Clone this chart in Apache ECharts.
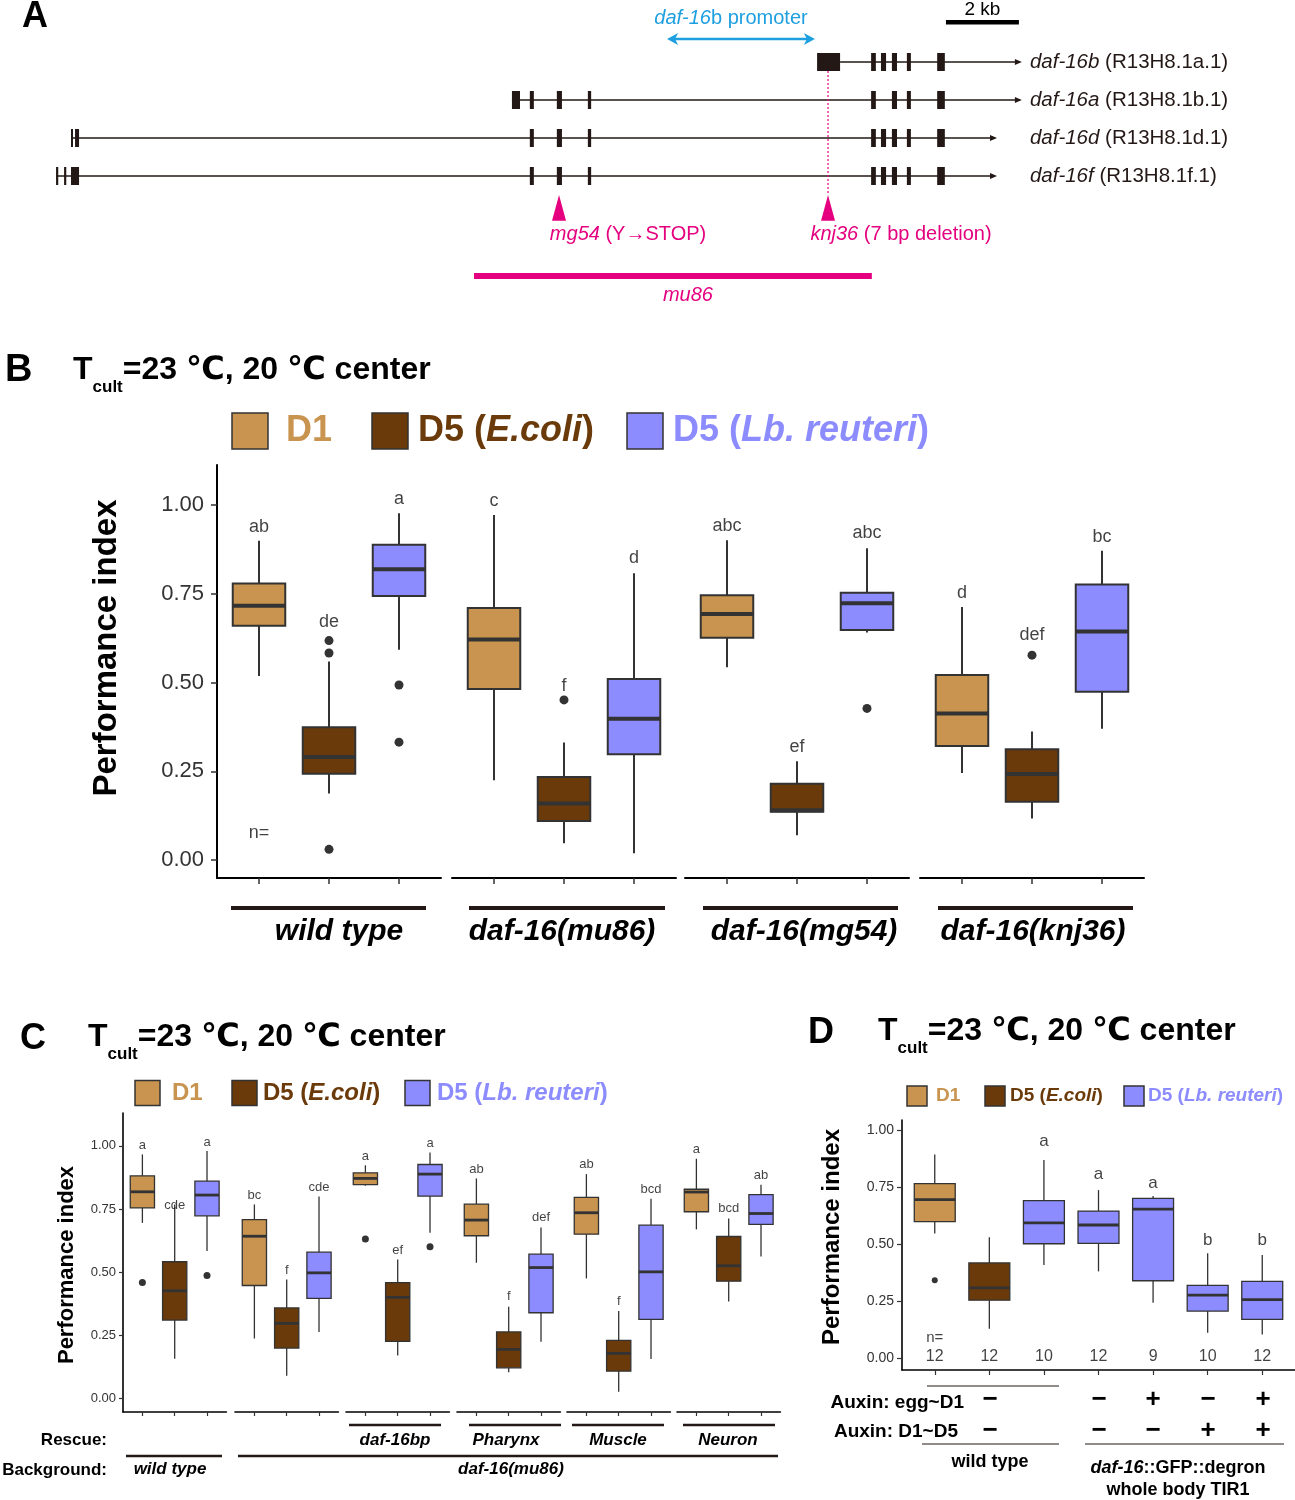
<!DOCTYPE html>
<html><head><meta charset="utf-8">
<script src="https://cdn.jsdelivr.net/npm/echarts@6/dist/echarts.min.js"></script>
<style>html,body{margin:0;padding:0;background:#fff}#c{width:1295px;height:1500px}</style>
</head><body><div id="c"></div>
<script>
const FONT = '"Liberation Sans", Arial, Helvetica, "DejaVu Sans", sans-serif';
const INK = '#231815';
const MAG = '#E4007F';
const BLUE = '#1D9FE0';

// ---------- shared ----------
const conditions = ['D1', 'D5 (E.coli)', 'D5 (Lb. reuteri)'];
const condColors = ['#C8944F', '#6B3A0A', '#8C8CFF'];
const yTicks = [0, 0.25, 0.5, 0.75, 1];

// ---------- Panel A (gene models, positions in kb) ----------
const txNames = ['daf-16b', 'daf-16a', 'daf-16d', 'daf-16f'];
const txIds = ['R13H8.1a.1', 'R13H8.1b.1', 'R13H8.1d.1', 'R13H8.1f.1'];
const txSpan = [[21.92, 26.90], [12.93, 26.90], [0.85, 26.22], [0.44, 26.22]];
const rightExons = [[22.77, 22.90], [23.04, 23.18], [23.34, 23.48], [23.75, 23.86], [24.58, 24.79]];
const leftExons = [[13.42, 13.53], [14.16, 14.30], [15.01, 15.10]];
const txExons = [
  [[21.29, 21.92]].concat(rightExons),
  [[12.93, 13.15]].concat(leftExons, [[22.77, 22.90], [23.34, 23.48], [23.75, 23.86], [24.58, 24.79]]),
  [[0.85, 0.90], [0.96, 1.07]].concat(leftExons, rightExons),
  [[0.44, 0.50], [0.66, 0.72], [0.85, 1.07]].concat(leftExons, rightExons)
];
const mutNames = ['mg54', 'knj36'];
const mutKb = [14.22, 21.59];
const mutText = ['{i|mg54} (Y→STOP)', '{i|knj36} (7 bp deletion)'];
const mu86Kb = [11.89, 22.79];
const promoterKb = [17.18, 21.23];
const scaleBarKb = [24.82, 26.82];

// ---------- Panel B ----------
const bGroups = ['wild type', 'daf-16(mu86)', 'daf-16(mg54)', 'daf-16(knj36)'];
// [min, Q1, median, Q3, max] ; order: group x condition
const bStats = [
  [0.518, 0.660, 0.716, 0.779, 0.899], [0.187, 0.243, 0.290, 0.374, 0.559], [0.592, 0.744, 0.819, 0.888, 0.977],
  [0.225, 0.482, 0.621, 0.710, 0.972], [0.047, 0.110, 0.159, 0.234, 0.331], [0.019, 0.298, 0.398, 0.510, 0.808],
  [0.543, 0.626, 0.693, 0.746, 0.901], [0.070, 0.136, 0.140, 0.215, 0.278], [0.641, 0.648, 0.723, 0.753, 0.878],
  [0.245, 0.321, 0.413, 0.521, 0.713], [0.117, 0.164, 0.242, 0.312, 0.362], [0.370, 0.474, 0.644, 0.776, 0.871]
];
const bOutliers = [[1, 0.618], [1, 0.583], [1, 0.030], [2, 0.493], [2, 0.332], [4, 0.451], [8, 0.427], [10, 0.577]];
const bLetters = ['ab', 'de', 'a', 'c', 'f', 'd', 'abc', 'ef', 'abc', 'd', 'def', 'bc'];
const bLetterY = [0.938, 0.670, 1.017, 1.011, 0.491, 0.851, 0.941, 0.318, 0.921, 0.753, 0.634, 0.911];

// ---------- Panel C ----------
const cRescue = ['', '', 'daf-16bp', 'Pharynx', 'Muscle', 'Neuron'];
const cBackground = ['wild type', 'daf-16(mu86)'];
const cStats = [
  [0.695, 0.754, 0.818, 0.881, 0.966], [0.157, 0.310, 0.426, 0.541, 0.768], [0.584, 0.723, 0.805, 0.860, 0.980],
  [0.237, 0.447, 0.642, 0.708, 0.768], [0.090, 0.199, 0.297, 0.358, 0.471], [0.263, 0.396, 0.497, 0.579, 0.799],
  [0.842, 0.846, 0.871, 0.893, 0.923], [0.170, 0.226, 0.400, 0.458, 0.550], [0.656, 0.801, 0.888, 0.926, 0.974],
  [0.537, 0.644, 0.706, 0.769, 0.871], [0.103, 0.121, 0.194, 0.263, 0.363], [0.224, 0.339, 0.518, 0.571, 0.677],
  [0.475, 0.650, 0.735, 0.796, 0.888], [0.026, 0.108, 0.178, 0.230, 0.346], [0.156, 0.313, 0.501, 0.686, 0.790],
  [0.669, 0.739, 0.817, 0.828, 0.949], [0.384, 0.464, 0.525, 0.641, 0.712], [0.562, 0.689, 0.732, 0.807, 0.846]
];
const cOutliers = [[0, 0.459], [2, 0.487], [6, 0.631], [8, 0.600]];
const cLetters = ['a', 'cde', 'a', 'bc', 'f', 'cde', 'a', 'ef', 'a', 'ab', 'f', 'def', 'ab', 'f', 'bcd', 'a', 'bcd', 'ab'];
const cLetterY = [1.000, 0.763, 1.015, 0.805, 0.508, 0.835, 0.959, 0.587, 1.009, 0.908, 0.402, 0.716, 0.926, 0.383, 0.829, 0.985, 0.752, 0.882];

// ---------- Panel D ----------
const dCond = [0, 1, 2, 2, 2, 2, 2];
const dStats = [
  [0.547, 0.599, 0.695, 0.765, 0.893], [0.130, 0.255, 0.309, 0.418, 0.530], [0.409, 0.502, 0.593, 0.691, 0.869],
  [0.381, 0.504, 0.584, 0.645, 0.737], [0.244, 0.340, 0.654, 0.701, 0.711], [0.112, 0.207, 0.277, 0.320, 0.460],
  [0.105, 0.171, 0.257, 0.337, 0.453]
];
const dOutliers = [[0, 0.342]];
const dLetters = ['', '', 'a', 'a', 'a', 'b', 'b'];
const dLetterY = [0, 0, 0.949, 0.806, 0.766, 0.518, 0.515];
const dN = [12, 12, 10, 12, 9, 10, 12];
const dAuxinEgg = ['−', '', '', '−', '+', '−', '+'];
const dAuxinD1D5 = ['−', '', '', '−', '−', '+', '+'];

// ================= build =================
const grids = [], xAxes = [], yAxes = [], series = [], G = [];

function boxRender(lw, medLw) {
  return function (params, api) {
    const x = api.value(0);
    const pMin = api.coord([x, api.value(1)]);
    const pQ1 = api.coord([x, api.value(2)]);
    const pMed = api.coord([x, api.value(3)]);
    const pQ3 = api.coord([x, api.value(4)]);
    const pMax = api.coord([x, api.value(5)]);
    const w = api.size([1, 0])[0] * 0.75;
    const cx = pMed[0];
    return {
      type: 'group', children: [
        { type: 'line', shape: { x1: cx, y1: pQ3[1], x2: cx, y2: pMax[1] }, style: { stroke: '#333', lineWidth: lw } },
        { type: 'line', shape: { x1: cx, y1: pQ1[1], x2: cx, y2: pMin[1] }, style: { stroke: '#333', lineWidth: lw } },
        { type: 'rect', shape: { x: cx - w / 2, y: pQ3[1], width: w, height: pQ1[1] - pQ3[1] },
          style: { fill: condColors[api.value(6)], stroke: '#333', lineWidth: lw } },
        { type: 'line', shape: { x1: cx - w / 2, y1: pMed[1], x2: cx + w / 2, y2: pMed[1] }, style: { stroke: '#333', lineWidth: medLw } }
      ]
    };
  };
}

function addPanel(P) {
  const k = P.perFacet;
  P.lefts.forEach(function (left, f) {
    const gi = grids.length;
    grids.push({ left: left, top: P.top, width: P.width, height: P.height });
    xAxes.push({
      gridIndex: gi, type: 'value', min: -0.6, max: k - 1 + 0.6,
      axisLine: { show: true, onZero: false, lineStyle: { color: '#000', width: P.axisW } },
      axisTick: { show: true, customValues: Array.from({ length: k }, (_, j) => j), length: P.tickLen, lineStyle: { color: '#333', width: P.tickW } },
      axisLabel: { show: false }, splitLine: { show: false }
    });
    yAxes.push({
      gridIndex: gi, type: 'value', min: P.ymin, max: P.ymax, show: f === 0,
      axisLine: { show: true, onZero: false, lineStyle: { color: '#000', width: P.axisW } },
      axisTick: { show: true, customValues: yTicks, length: P.tickLen, lineStyle: { color: '#333', width: P.tickW } },
      axisLabel: { show: true, customValues: yTicks, formatter: v => v.toFixed(2), fontSize: P.yFont, color: '#333', fontFamily: FONT, margin: P.labelMargin },
      splitLine: { show: false }
    });
    const data = [];
    for (let j = 0; j < k; j++) {
      const i = f * k + j, s = P.stats[i];
      data.push([j, s[0], s[1], s[2], s[3], s[4], P.cond(i)]);
    }
    series.push({ type: 'custom', xAxisIndex: gi, yAxisIndex: gi, renderItem: boxRender(P.boxLw, P.medLw), data: data, encode: { x: 0, y: [1, 2, 3, 4, 5] }, z: 2, silent: true });
    const od = P.outliers.filter(o => Math.floor(o[0] / k) === f).map(o => [o[0] % k, o[1]]);
    series.push({ type: 'scatter', xAxisIndex: gi, yAxisIndex: gi, data: od, symbolSize: P.dot, itemStyle: { color: '#333', opacity: 1 }, z: 3, silent: true });
    const ld = [];
    for (let j = 0; j < k; j++) {
      const i = f * k + j;
      if (P.letters[i]) ld.push({ value: [j, P.letterY[i]], name: P.letters[i] });
    }
    (P.extraText || []).filter(t => t.facet === f).forEach(t => ld.push({ value: [t.x, t.y], name: t.text, label: t.label }));
    series.push({
      type: 'scatter', xAxisIndex: gi, yAxisIndex: gi, data: ld, symbolSize: 1, itemStyle: { color: 'rgba(0,0,0,0)' }, silent: true, z: 4,
      label: { show: true, position: 'inside', formatter: '{b}', fontSize: P.letterFont, color: '#111', fontFamily: FONT }
    });
  });
}

// ----- Panel A grid -----
grids.push({ left: 40, top: 0, width: 1000, height: 310 });
xAxes.push({ gridIndex: 0, type: 'value', min: 0, max: 1000 / 36.5, show: false });
yAxes.push({ gridIndex: 0, type: 'value', min: -62 / 38, max: (310 - 62) / 38, inverse: true, show: false });
const aCommon = { xAxisIndex: 0, yAxisIndex: 0, silent: true, encode: { x: [0, 1], y: 2 } };
// backbone lines + arrows
series.push(Object.assign({
  type: 'custom', data: txSpan.map((s, i) => [s[0], s[1], i]),
  renderItem: function (p, api) {
    const a = api.coord([api.value(0), api.value(2)]), b = api.coord([api.value(1), api.value(2)]);
    return { type: 'group', children: [
      { type: 'line', shape: { x1: a[0], y1: a[1], x2: b[0] - 2, y2: b[1] }, style: { stroke: INK, lineWidth: 1.4 } },
      { type: 'polygon', shape: { points: [[b[0], b[1]], [b[0] - 7, b[1] - 3], [b[0] - 7, b[1] + 3]] }, style: { fill: INK } }
    ] };
  }
}, aCommon));
// exons
const exonData = [];
txExons.forEach((ex, r) => ex.forEach(e => exonData.push([e[0], e[1], r])));
series.push(Object.assign({
  type: 'custom', data: exonData, z: 3,
  renderItem: function (p, api) {
    const a = api.coord([api.value(0), api.value(2)]), b = api.coord([api.value(1), api.value(2)]);
    return { type: 'rect', shape: { x: a[0], y: a[1] - 9, width: Math.max(b[0] - a[0], 2), height: 18 }, style: { fill: INK } };
  }
}, aCommon));
// transcript labels
const labelKb = Math.max.apply(null, txSpan.map(s => s[1])) + 0.22;
series.push(Object.assign({
  type: 'custom', data: txNames.map((n, i) => [labelKb, labelKb, i]),
  renderItem: function (p, api) {
    const a = api.coord([api.value(0), api.value(2)]);
    return { type: 'text', x: a[0], y: a[1], style: {
      text: '{i|' + txNames[p.dataIndex] + '} (' + txIds[p.dataIndex] + ')',
      fontSize: 20.5, fontFamily: FONT, fill: INK, align: 'left', verticalAlign: 'middle',
      rich: { i: { fontSize: 20.5, fontFamily: FONT, fontStyle: 'italic', fill: INK } } } };
  }
}, aCommon));
// knj36 dotted guide + triangles + labels
series.push(Object.assign({
  type: 'custom', data: mutKb.map((x, i) => [x, x, 3.5]), z: 4,
  renderItem: function (p, api) {
    const x = api.value(0);
    const apex = api.coord([x, 3.5]), base = api.coord([x, 4.18]);
    const lab = api.coord([x, 4.55]);
    const children = [
      { type: 'polygon', shape: { points: [[apex[0], apex[1]], [apex[0] - 7, base[1]], [apex[0] + 7, base[1]]] }, style: { fill: MAG } },
      { type: 'text', x: lab[0] + (p.dataIndex === 0 ? 69 : 73), y: lab[1], style: {
        text: mutText[p.dataIndex], fontSize: 20, fontFamily: FONT, fill: MAG, align: 'center', verticalAlign: 'middle',
        rich: { i: { fontSize: 20, fontFamily: FONT, fontStyle: 'italic', fill: MAG } } } }
    ];
    if (p.dataIndex === 1) {
      const top = api.coord([x, 0]);
      children.push({ type: 'line', shape: { x1: top[0], y1: top[1] + 9, x2: apex[0], y2: apex[1] - 2 }, style: { stroke: MAG, lineWidth: 1.2, lineDash: [2, 2] } });
    }
    return { type: 'group', children: children };
  }
}, aCommon));
// mu86 deletion bar
series.push(Object.assign({
  type: 'custom', data: [[mu86Kb[0], mu86Kb[1], 5.63]],
  renderItem: function (p, api) {
    const a = api.coord([api.value(0), api.value(2)]), b = api.coord([api.value(1), api.value(2)]);
    const l = api.coord([(api.value(0) + api.value(1)) / 2, 6.13]);
    return { type: 'group', children: [
      { type: 'rect', shape: { x: a[0], y: a[1] - 3, width: b[0] - a[0], height: 6 }, style: { fill: MAG } },
      { type: 'text', x: l[0] + 15, y: l[1], style: { text: 'mu86', fontSize: 20, fontFamily: FONT, fontStyle: 'italic', fill: MAG, align: 'center', verticalAlign: 'middle' } }
    ] };
  }
}, aCommon));
// promoter double arrow
series.push(Object.assign({
  type: 'custom', data: [[promoterKb[0], promoterKb[1], -0.605]],
  renderItem: function (p, api) {
    const a = api.coord([api.value(0), api.value(2)]), b = api.coord([api.value(1), api.value(2)]);
    const l = api.coord([(api.value(0) + api.value(1)) / 2, -1.158]);
    return { type: 'group', children: [
      { type: 'line', shape: { x1: a[0] + 6, y1: a[1], x2: b[0] - 6, y2: b[1] }, style: { stroke: BLUE, lineWidth: 2.5 } },
      { type: 'polygon', shape: { points: [[a[0], a[1]], [a[0] + 11, a[1] - 6], [a[0] + 8, a[1]], [a[0] + 11, a[1] + 6]] }, style: { fill: BLUE } },
      { type: 'polygon', shape: { points: [[b[0], b[1]], [b[0] - 11, b[1] - 6], [b[0] - 8, b[1]], [b[0] - 11, b[1] + 6]] }, style: { fill: BLUE } },
      { type: 'text', x: l[0] - 10, y: l[1], style: { text: '{i|daf-16}b promoter', fontSize: 20, fontFamily: FONT, fill: BLUE, align: 'center', verticalAlign: 'middle',
        rich: { i: { fontSize: 20, fontFamily: FONT, fontStyle: 'italic', fill: BLUE } } } }
    ] };
  }
}, aCommon));
// scale bar
series.push(Object.assign({
  type: 'custom', data: [[scaleBarKb[0], scaleBarKb[1], -1.05]],
  renderItem: function (p, api) {
    const a = api.coord([api.value(0), api.value(2)]), b = api.coord([api.value(1), api.value(2)]);
    const l = api.coord([(api.value(0) + api.value(1)) / 2, -1.368]);
    return { type: 'group', children: [
      { type: 'rect', shape: { x: a[0], y: a[1] - 2, width: b[0] - a[0], height: 4.5 }, style: { fill: '#000' } },
      { type: 'text', x: l[0], y: l[1], style: { text: '2 kb', fontSize: 19, fontFamily: FONT, fill: '#000', align: 'center', verticalAlign: 'middle' } }
    ] };
  }
}, aCommon));

// ----- Panel B -----
addPanel({
  lefts: [217, 452, 685, 920], width: 224, top: 465, height: 413, perFacet: 3,
  ymin: -0.0507, ymax: 1.1127, stats: bStats, outliers: bOutliers, letters: bLetters, letterY: bLetterY,
  cond: i => i % 3, axisW: 2, tickW: 1.5, tickLen: 6, yFont: 22, labelMargin: 13, boxLw: 2, medLw: 4, dot: 9, letterFont: 18,
  extraText: [{ facet: 0, x: 0, y: 0.076, text: 'n=' }]
});
// ----- Panel C -----
addPanel({
  lefts: [123, 235, 346, 457, 567, 677], width: 103.4, top: 1113, height: 299, perFacet: 3,
  ymin: -0.054, ymax: 1.13, stats: cStats, outliers: cOutliers, letters: cLetters, letterY: cLetterY,
  cond: i => i % 3, axisW: 1.6, tickW: 1.2, tickLen: 4, yFont: 13, labelMargin: 7, boxLw: 1.3, medLw: 2.8, dot: 7, letterFont: 13
});
// ----- Panel D -----
addPanel({
  lefts: [902], width: 394, top: 1120, height: 250, perFacet: 7,
  ymin: -0.051, ymax: 1.044, stats: dStats, outliers: dOutliers, letters: dLetters, letterY: dLetterY,
  cond: i => dCond[i], axisW: 1.6, tickW: 1.2, tickLen: 5, yFont: 14, labelMargin: 8, boxLw: 1.3, medLw: 2.8, dot: 6, letterFont: 17,
  extraText: [{ facet: 0, x: 0, y: 0.089, text: 'n=', label: { fontSize: 15 } }].concat(
    dN.map((n, j) => ({ facet: 0, x: j, y: 0.006, text: String(n), label: { fontSize: 16 } })))
});

// ================= graphics (titles, legends, facet annotations) =================
function txt(x, y, text, size, opt) {
  opt = opt || {};
  return { type: 'text', x: x, y: y, silent: true, rotation: opt.rotation || 0, style: {
    text: text, fontSize: size, fontFamily: FONT, fontWeight: opt.weight || 'normal', fontStyle: opt.italic ? 'italic' : 'normal',
    fill: opt.color || '#000', align: opt.align || 'left', verticalAlign: opt.va || 'middle', rich: opt.rich } };
}
function hline(x1, x2, y, w, c) {
  return { type: 'line', silent: true, shape: { x1: x1, y1: y, x2: x2, y2: y }, style: { stroke: c || '#000', lineWidth: w } };
}
function title(x, yTop) {
  return { type: 'text', x: x, y: yTop, silent: true, style: {
    text: '{t|T}{s|cult}{t|=23 ℃, 20 ℃ center}', align: 'left', verticalAlign: 'top',
    rich: {
      t: { fontSize: 32, fontWeight: 'bold', fontFamily: FONT, fill: '#000', lineHeight: 35, verticalAlign: 'top' },
      s: { fontSize: 17, fontWeight: 'bold', fontFamily: FONT, fill: '#000', lineHeight: 17, padding: [25, 0, 0, 0], verticalAlign: 'top' }
    } } };
}
function legend(xs, tx, y, sq, size) {
  const out = [];
  const rich = {
    n: { fontSize: size, fontWeight: 'bold', fontFamily: FONT },
    i: { fontSize: size, fontWeight: 'bold', fontStyle: 'italic', fontFamily: FONT }
  };
  const labels = ['{n|D1}', '{n|D5 (}{i|E.coli}{n|)}', '{n|D5 (}{i|Lb. reuteri}{n|)}'];
  for (let i = 0; i < 3; i++) {
    out.push({ type: 'rect', silent: true, shape: { x: xs[i], y: y - sq / 2, width: sq, height: sq }, style: { fill: condColors[i], stroke: '#333', lineWidth: 1.5 } });
    const r = JSON.parse(JSON.stringify(rich));
    r.n.fill = condColors[i]; r.i.fill = condColors[i];
    out.push({ type: 'text', x: tx[i], y: y, silent: true, style: { text: labels[i], align: 'left', verticalAlign: 'middle', rich: r } });
  }
  return out;
}

// Panel labels
G.push(txt(22, 17, 'A', 36, { weight: 'bold' }));
G.push(txt(5, 371, 'B', 38, { weight: 'bold' }));
G.push(txt(20, 1039, 'C', 36, { weight: 'bold' }));
G.push(txt(808, 1033, 'D', 36, { weight: 'bold' }));
// titles
G.push(title(73, 354));
G.push(title(88, 1021));
G.push(title(878, 1015));
// legends
G.push.apply(G, legend([232, 372, 627], [286, 418, 673], 431, 36, 36));
G.push.apply(G, legend([135, 232, 405], [172, 263, 437], 1093, 25, 24));
G.push.apply(G, legend([907, 985, 1124], [936, 1010, 1148], 1096, 20, 19));
// y titles
G.push(txt(107, 648, 'Performance index', 33, { weight: 'bold', align: 'center', rotation: Math.PI / 2 }));
G.push(txt(67, 1265, 'Performance index', 22, { weight: 'bold', align: 'center', rotation: Math.PI / 2 }));
G.push(txt(832, 1237, 'Performance index', 24, { weight: 'bold', align: 'center', rotation: Math.PI / 2 }));

// Panel B group labels
const bLineX = [[231, 426], [469, 665], [703, 898], [938, 1133]];
const bLabelX = [339, 562, 804, 1033];
bGroups.forEach((g, i) => {
  G.push(hline(bLineX[i][0], bLineX[i][1], 908, 4, INK));
  G.push(txt(bLabelX[i], 932, g, 30, { weight: 'bold', italic: true, align: 'center' }));
});

// Panel C annotations
const cRescueLine = [null, null, [349, 441], [469, 561], [572, 664], [683, 775]];
const cRescueX = [0, 0, 395, 506, 618, 728];
cRescue.forEach((r, i) => {
  if (!r) return;
  G.push(hline(cRescueLine[i][0], cRescueLine[i][1], 1425, 2.5, INK));
  G.push(txt(cRescueX[i], 1440, r, 17, { weight: 'bold', italic: true, align: 'center' }));
});
G.push(txt(107, 1440, 'Rescue:', 17, { weight: 'bold', align: 'right' }));
G.push(txt(107, 1470, 'Background:', 17, { weight: 'bold', align: 'right' }));
const cBgLine = [[126, 222], [238, 778]];
const cBgX = [170, 511];
cBackground.forEach((b, i) => {
  G.push(hline(cBgLine[i][0], cBgLine[i][1], 1456, 2.5, INK));
  G.push(txt(cBgX[i], 1469, b, 17, { weight: 'bold', italic: true, align: 'center' }));
});

// Panel D annotations
const dTickX = [935, 990, 1044, 1099, 1153, 1208, 1263];
G.push(txt(964, 1403, 'Auxin: egg~D1', 19, { weight: 'bold', align: 'right' }));
G.push(txt(958, 1432, 'Auxin: D1~D5', 19, { weight: 'bold', align: 'right' }));
dAuxinEgg.forEach((s, i) => { if (s) G.push(txt(dTickX[i === 0 ? 1 : i], 1400, s, 26, { weight: 'bold', align: 'center' })); });
dAuxinD1D5.forEach((s, i) => { if (s) G.push(txt(dTickX[i === 0 ? 1 : i], 1431, s, 26, { weight: 'bold', align: 'center' })); });
G.push(hline(927, 1059, 1386, 1.2, INK));
G.push(hline(922, 1059, 1444, 1.2, INK));
G.push(hline(1085, 1284, 1444, 1.2, INK));
G.push(txt(990, 1462, 'wild type', 18, { weight: 'bold', align: 'center' }));
G.push(txt(1178, 1468, '{i|daf-16}::GFP::degron', 18, { weight: 'bold', align: 'center',
  rich: { i: { fontSize: 18, fontWeight: 'bold', fontStyle: 'italic', fontFamily: FONT, fill: '#000' } } }));
G.push(txt(1178, 1490, 'whole body TIR1', 18, { weight: 'bold', align: 'center' }));

const chart = echarts.init(document.getElementById('c'), null, { renderer: 'canvas', width: 1295, height: 1500 });
chart.setOption({
  animation: false,
  backgroundColor: '#fff',
  grid: grids, xAxis: xAxes, yAxis: yAxes, series: series,
  graphic: { elements: G }
});
</script></body></html>
